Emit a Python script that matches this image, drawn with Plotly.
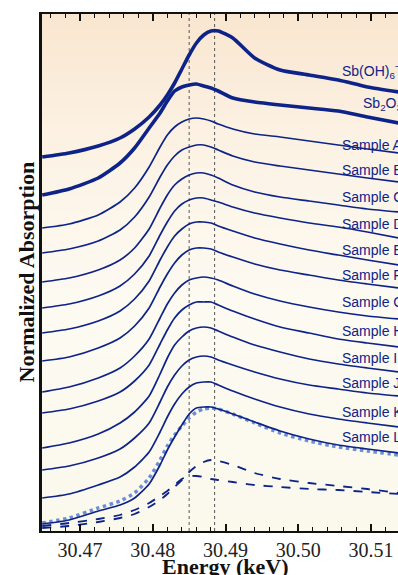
import plotly.graph_objects as go

# Energy grid (keV) at which curves were read
energy = [30.4648, 30.4685, 30.4725, 30.4755, 30.4775, 30.4795, 30.481, 30.482, 30.483, 30.484,
          30.485, 30.486, 30.487, 30.488, 30.489, 30.491, 30.494, 30.4975, 30.5015, 30.5055,
          30.5095, 30.5138]

# Normalized absorption (offset for display)
sb_oh6 = [3.74, 3.78, 3.85, 3.93, 4.02, 4.14, 4.26, 4.36, 4.48, 4.62, 4.76, 4.88, 4.96, 5.00, 5.00, 4.93, 4.73, 4.61, 4.56, 4.51, 4.44, 4.39]
sb2o3 = [3.36, 3.42, 3.53, 3.68, 3.83, 4.03, 4.18, 4.30, 4.40, 4.44, 4.46, 4.47, 4.45, 4.43, 4.40, 4.33, 4.29, 4.26, 4.23, 4.20, 4.14, 4.08]
sample_a = [3.03, 3.07, 3.16, 3.29, 3.43, 3.64, 3.84, 3.96, 4.04, 4.09, 4.12, 4.13, 4.12, 4.10, 4.07, 4.02, 3.97, 3.94, 3.90, 3.86, 3.82, 3.78]
sample_b = [2.78, 2.82, 2.90, 3.01, 3.14, 3.34, 3.54, 3.66, 3.75, 3.81, 3.84, 3.86, 3.86, 3.84, 3.81, 3.75, 3.69, 3.65, 3.61, 3.57, 3.53, 3.49]
sample_c = [2.49, 2.53, 2.61, 2.71, 2.83, 3.02, 3.23, 3.36, 3.46, 3.52, 3.56, 3.58, 3.58, 3.56, 3.53, 3.46, 3.39, 3.34, 3.30, 3.26, 3.22, 3.19]
sample_d = [2.23, 2.27, 2.35, 2.45, 2.57, 2.75, 2.96, 3.09, 3.20, 3.27, 3.31, 3.33, 3.33, 3.31, 3.29, 3.24, 3.18, 3.13, 3.08, 3.04, 2.99, 2.93]
sample_e = [1.98, 2.02, 2.10, 2.20, 2.32, 2.50, 2.71, 2.84, 2.95, 3.02, 3.07, 3.09, 3.09, 3.08, 3.05, 3.00, 2.93, 2.87, 2.81, 2.76, 2.71, 2.66]
sample_f = [1.70, 1.74, 1.83, 1.93, 2.05, 2.23, 2.44, 2.57, 2.68, 2.76, 2.81, 2.83, 2.83, 2.82, 2.79, 2.74, 2.67, 2.61, 2.56, 2.51, 2.47, 2.43]
sample_g = [1.39, 1.44, 1.53, 1.63, 1.75, 1.92, 2.13, 2.27, 2.38, 2.46, 2.51, 2.53, 2.54, 2.53, 2.51, 2.45, 2.37, 2.30, 2.24, 2.19, 2.15, 2.12]
sample_h = [1.18, 1.22, 1.30, 1.39, 1.50, 1.66, 1.87, 2.01, 2.13, 2.21, 2.26, 2.29, 2.29, 2.29, 2.26, 2.20, 2.12, 2.04, 1.98, 1.92, 1.88, 1.84]
sample_i = [0.83, 0.88, 0.97, 1.08, 1.19, 1.35, 1.57, 1.73, 1.86, 1.94, 2.00, 2.03, 2.04, 2.03, 2.00, 1.94, 1.86, 1.79, 1.72, 1.67, 1.63, 1.59]
sample_j = [0.61, 0.65, 0.73, 0.82, 0.93, 1.08, 1.29, 1.44, 1.56, 1.65, 1.71, 1.74, 1.75, 1.74, 1.71, 1.66, 1.59, 1.52, 1.46, 1.42, 1.38, 1.35]
sample_k = [0.33, 0.37, 0.46, 0.54, 0.64, 0.79, 0.99, 1.14, 1.27, 1.37, 1.44, 1.48, 1.49, 1.49, 1.46, 1.40, 1.32, 1.24, 1.17, 1.12, 1.08, 1.04]
sample_l = [0.07, 0.11, 0.20, 0.26, 0.33, 0.47, 0.66, 0.81, 0.94, 1.06, 1.17, 1.23, 1.24, 1.24, 1.22, 1.17, 1.09, 1.00, 0.92, 0.86, 0.82, 0.78]
fit_l = [0.08, 0.13, 0.23, 0.30, 0.38, 0.53, 0.71, 0.85, 0.96, 1.05, 1.13, 1.19, 1.22, 1.23, 1.22, 1.17, 1.08, 0.98, 0.90, 0.84, 0.80, 0.76]
comp_sb2o3 = [0.05, 0.08, 0.12, 0.16, 0.21, 0.28, 0.35, 0.40, 0.46, 0.52, 0.55, 0.55, 0.54, 0.52, 0.51, 0.49, 0.46, 0.44, 0.42, 0.41, 0.39, 0.37]
comp_sboh6 = [0.03, 0.05, 0.09, 0.13, 0.17, 0.24, 0.31, 0.37, 0.44, 0.51, 0.59, 0.65, 0.69, 0.71, 0.70, 0.66, 0.58, 0.52, 0.48, 0.45, 0.42, 0.38]

samples = [sample_a, sample_b, sample_c, sample_d, sample_e, sample_f,
           sample_g, sample_h, sample_i, sample_j, sample_k, sample_l]

# Curve labels: (text, energy of left edge, y)
label_texts = ["Sb(OH)<sub>6</sub><sup>−</sup>", "Sb<sub>2</sub>O<sub>3</sub>",
               "Sample A", "Sample B", "Sample C", "Sample D", "Sample E", "Sample F",
               "Sample G", "Sample H", "Sample I", "Sample J", "Sample K", "Sample L"]
label_x = [30.5057, 30.5086] + [30.5057] * 12
label_y = [4.60, 4.27, 3.86, 3.61, 3.34, 3.07, 2.81, 2.56, 2.29, 2.00, 1.73, 1.48, 1.19, 0.94]

ref_lines = [30.485, 30.4885]
x_ticks = [30.47, 30.48, 30.49, 30.50, 30.51]
x_range = [30.46477, 30.51371]
y_range = [0, 5.17]

NAVY = "#0d2388"
fig = go.Figure()

# background gradient (peach at top -> cream at bottom)
stops = [(0.0, (249, 230, 207)), (0.25, (252, 242, 228)), (0.55, (253, 250, 242)), (1.0, (251, 249, 236))]
def col(t):
    for (t0, c0), (t1, c1) in zip(stops[:-1], stops[1:]):
        if t <= t1:
            f = (t - t0) / (t1 - t0)
            return "rgb(%d,%d,%d)" % tuple(round(a + (b - a) * f) for a, b in zip(c0, c1))
    return "rgb(%d,%d,%d)" % stops[-1][1]
shapes = []
N = 60
for i in range(N):
    t0, t1 = i / N, (i + 1) / N
    shapes.append(dict(type="rect", xref="paper", yref="paper", x0=0, x1=1,
                       y0=1 - t1, y1=1 - t0 + 0.002, fillcolor=col((t0 + t1) / 2),
                       line=dict(width=0), layer="below"))
for xv in ref_lines:
    shapes.append(dict(type="line", xref="x", yref="paper", x0=xv, x1=xv, y0=0, y1=1,
                       line=dict(color="#555555", width=1, dash="dot"), layer="below"))

line_kw = dict(shape="spline", smoothing=0.6)
# components and fit
fig.add_trace(go.Scatter(x=energy, y=comp_sb2o3, mode="lines", line=dict(color=NAVY, width=1.8, dash="dash", **line_kw)))
fig.add_trace(go.Scatter(x=energy, y=comp_sboh6, mode="lines", line=dict(color=NAVY, width=1.8, dash="dash", **line_kw)))
fig.add_trace(go.Scatter(x=energy, y=fit_l, mode="lines", line=dict(color="#6d8ed6", width=3.5, dash="dot", **line_kw)))

for s in samples:
    fig.add_trace(go.Scatter(x=energy, y=s, mode="lines", line=dict(color=NAVY, width=1.7, **line_kw)))

fig.add_trace(go.Scatter(x=energy, y=sb2o3, mode="lines", line=dict(color=NAVY, width=3.6, **line_kw)))
fig.add_trace(go.Scatter(x=energy, y=sb_oh6, mode="lines", line=dict(color=NAVY, width=3.6, **line_kw)))

annotations = []
for t, xv, yv in zip(label_texts, label_x, label_y):
    annotations.append(dict(x=xv, y=yv, xref="x", yref="y", text=t, showarrow=False,
                            xanchor="left", yanchor="middle",
                            font=dict(family="Liberation Sans, Arial", size=14, color=NAVY)))
annotations.append(dict(x=0.514, y=0, xref="paper", yref="paper", text="<b>Energy (keV)</b>",
                        showarrow=False, xanchor="center", yanchor="top", yshift=-21,
                        font=dict(family="Liberation Serif, Times New Roman", size=22, color="#111111")))
annotations.append(dict(x=0, y=0.5, xref="paper", yref="paper", text="<b>Normalized Absorption</b>",
                        showarrow=False, xanchor="center", yanchor="middle", xshift=-16, textangle=-90,
                        font=dict(family="Liberation Serif, Times New Roman", size=22, color="#111111")))

fig.update_layout(
    width=398, height=575, margin=dict(l=42, r=0, t=14, b=44),
    paper_bgcolor="white", plot_bgcolor="rgba(0,0,0,0)",
    showlegend=False, shapes=shapes, annotations=annotations,
    xaxis=dict(range=x_range, tickvals=x_ticks, ticktext=["%.2f" % v for v in x_ticks],
               ticks="inside", ticklen=7, tickwidth=1.5, tickcolor="#111111",
               minor=dict(ticks="inside", ticklen=4, dtick=0.002, tick0=30.47, tickcolor="#111111", tickwidth=1.2),
               showline=True, linecolor="#111111", linewidth=2, mirror="allticks",
               showgrid=False, zeroline=False,
               tickfont=dict(family="Liberation Serif, Times New Roman", size=20, color="#222222")),
    yaxis=dict(range=y_range, showticklabels=False, ticks="", showgrid=False, zeroline=False,
               showline=True, linecolor="#111111", linewidth=2.5, mirror=False),
)

fig.write_html("out.html")
